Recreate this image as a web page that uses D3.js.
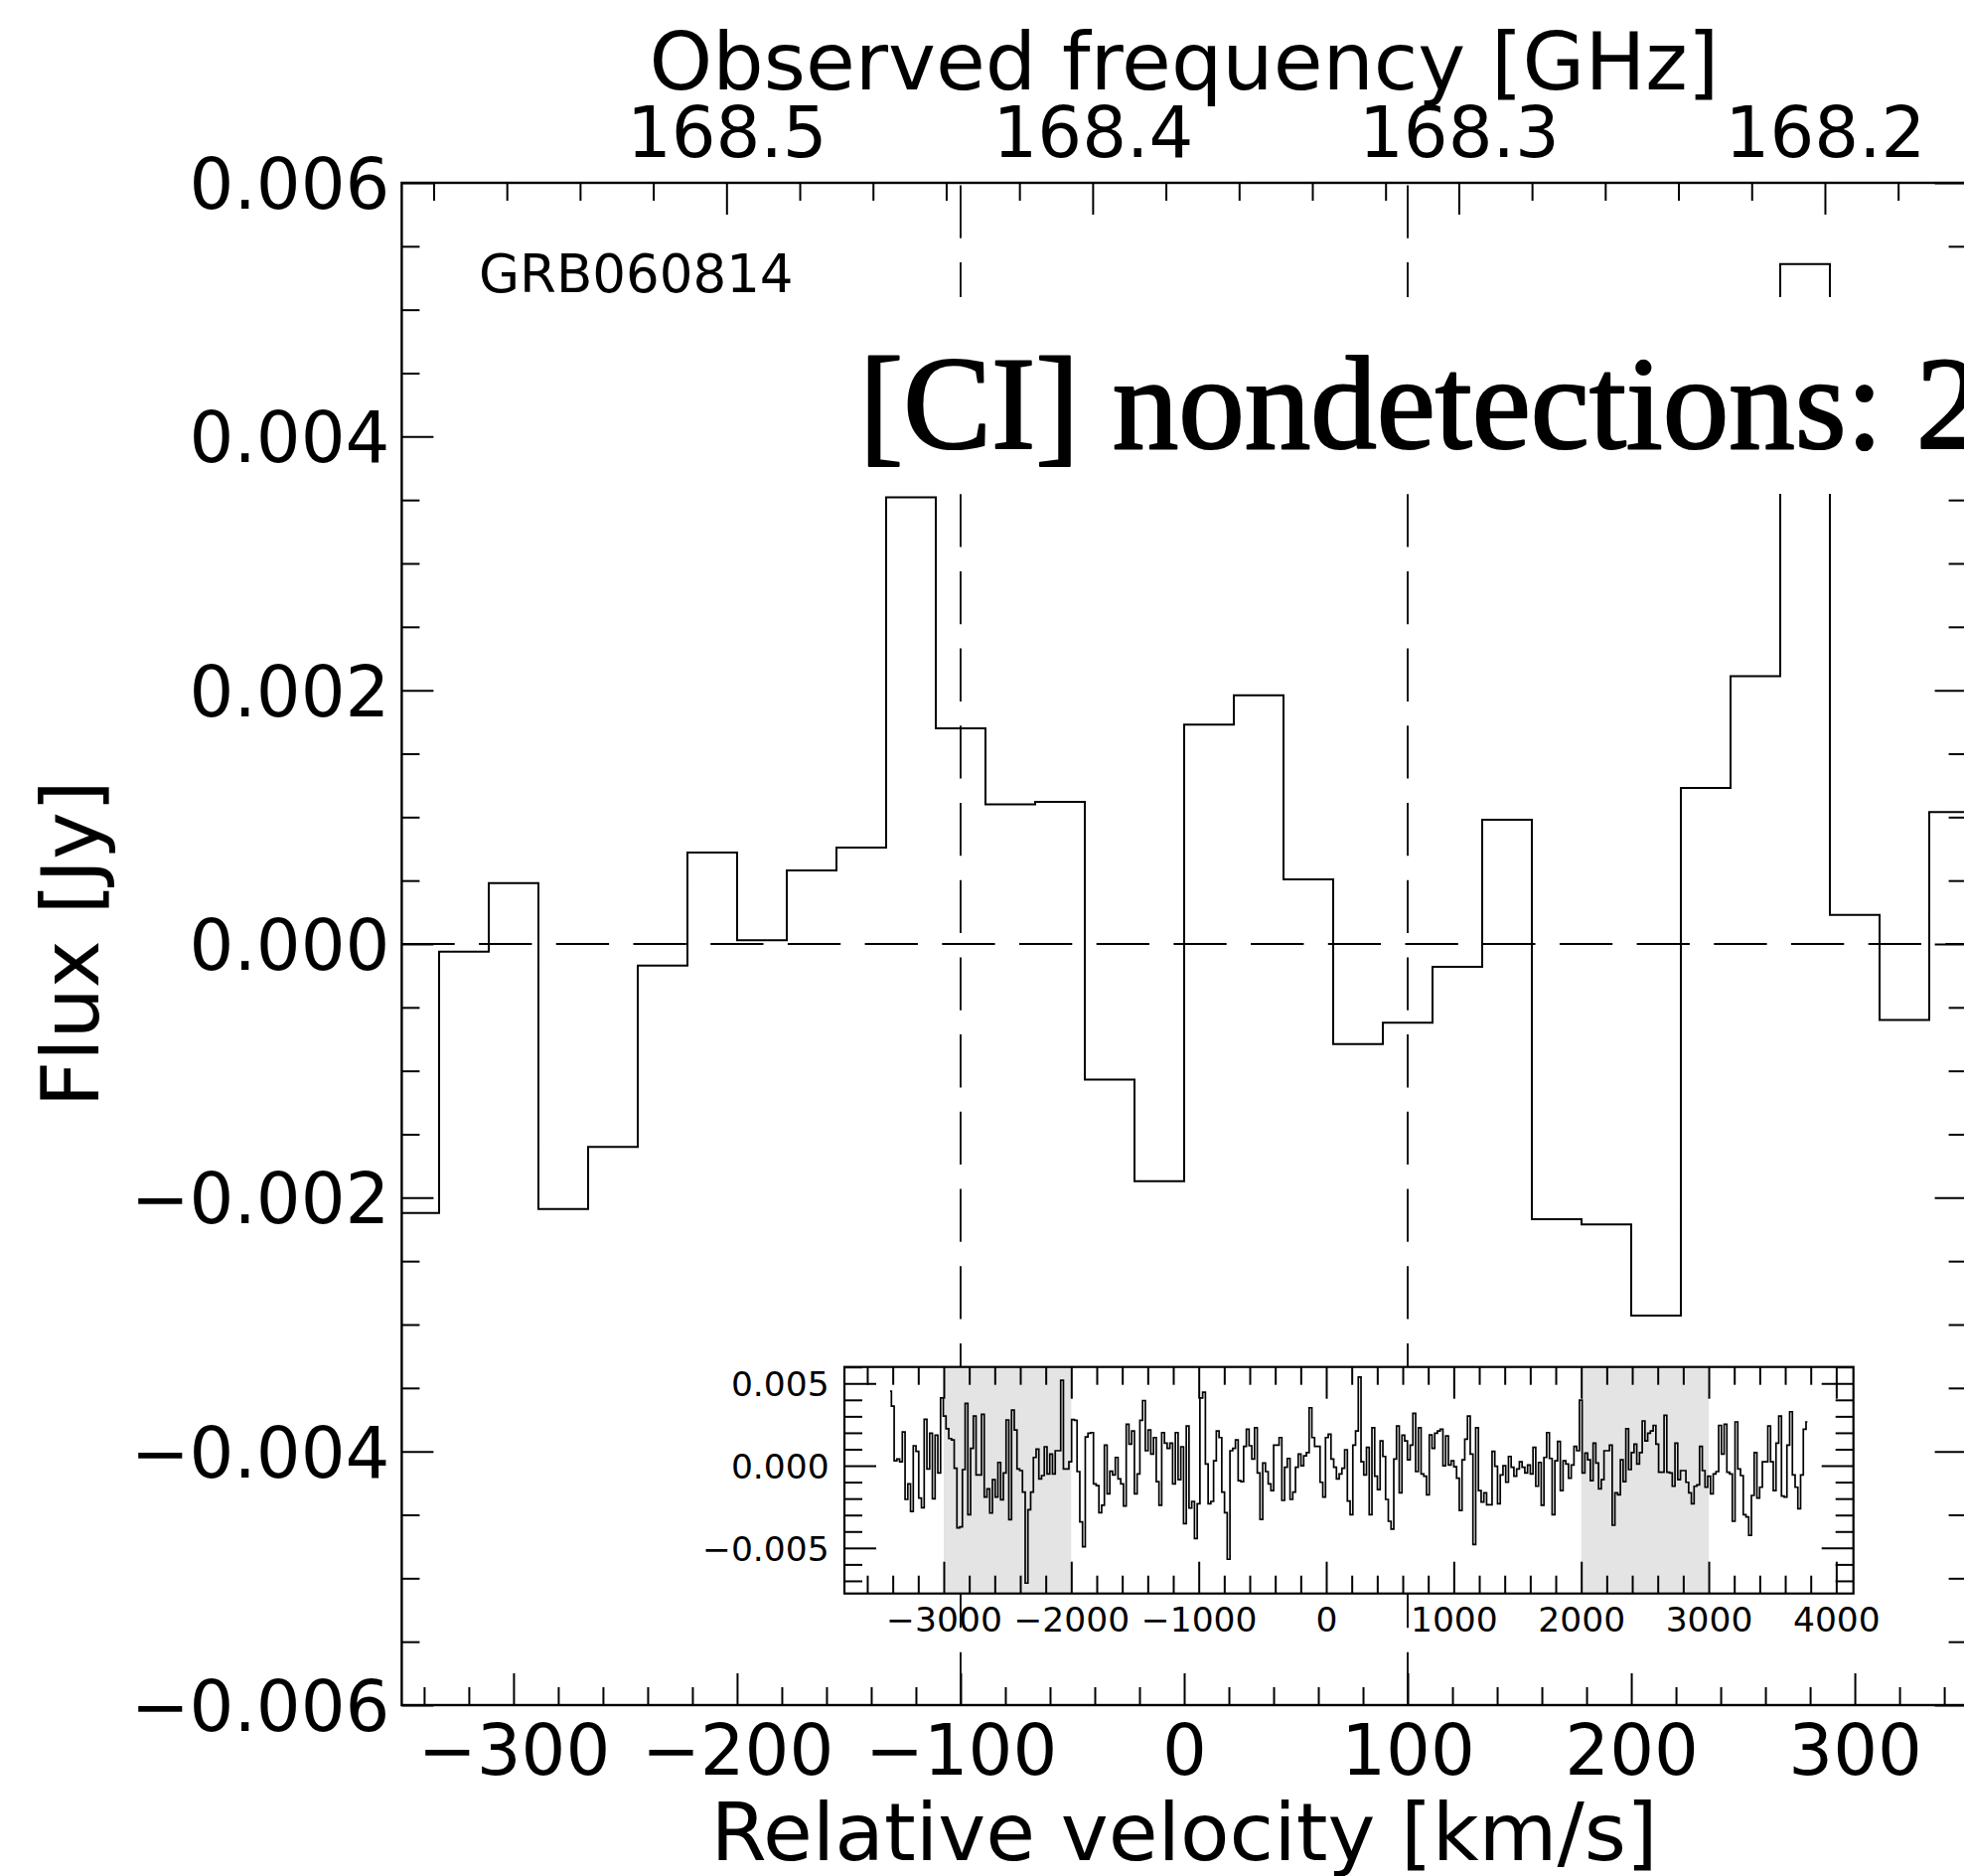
<!DOCTYPE html>
<html>
<head>
<meta charset="utf-8">
<script src="https://cdn.jsdelivr.net/npm/d3@7"></script>
<style>
  html, body { margin: 0; padding: 0; background: #fff; }
  svg { display: block; }
</style>
</head>
<body>
<svg id="chart" width="1977" height="1888"></svg>
<script>
// ---- Spectrum data (flux in mJy per channel) ----
const channelWidth = 22.22;          // km/s per channel
const mainFirstChannel = -16;        // channel index of the first listed bin (left edge = index * width)
const mainFluxMilliJy = [
  -2.12, -0.06, 0.48, -2.09, -1.60, -0.17, 0.72, 0.03, 0.58, 0.76, 3.52, 1.70,
  1.10, 1.12, -1.07, -1.87, 1.73, 1.96, 0.51, -0.79, -0.62, -0.18, 0.98, -2.17,
  -2.21, -2.93, 1.23, 2.11, 5.36, 0.23, -0.60, 1.04
];

// Wide-band spectrum shown in the inset
const insetFirstVelocity = -3421;    // km/s, first channel
const insetLastVelocity = 3774;      // km/s, last channel
const insetFluxMilliJy = [
  4.53, 3.62, 0.30, 0.40, 0.24, 2.05, -2.05, -1.11, -2.78, 1.21, 0.87, -1.97, -2.56, 2.82, -0.20, 1.97,
  -2.01, 1.85, -0.44, 4.12, 3.02, 2.25, 1.65, 1.57, -0.16, -3.78, -3.72, -0.24, 3.78, -2.98, 1.05, 3.02,
  -0.56, -0.56, 3.12, -1.91, -1.41, -2.88, -0.85, -1.91, 0.20, -2.07, -0.44, 2.78, -3.28, 3.38, 2.17, -0.20,
  -0.30, -1.61, -7.14, -2.68, -1.61, 0.50, 1.01, -0.80, -0.60, 1.15, -0.50, 0.70, -0.50, 0.91, 0.91, 5.19,
  -0.20, -0.20, 0.24, 2.80, 2.76, -0.36, -3.42, -4.93, 1.75, 1.97, 2.01, -1.11, -1.21,
  -2.86, -2.41, 1.25, -1.71, -0.34, -0.56, 0.50, -0.80, -1.11, -2.45, 2.52, 1.31, 2.11, -1.71, -0.50, 2.76,
  3.96, 0.91, 2.17, 0.70, 1.71, -0.97, -2.41, 2.01, 1.37, 1.05, 1.37, -1.11, 2.01, -0.85, 1.15, -3.52,
  2.41, -2.58, -2.17, -4.43, -2.31, 4.12, 4.47, 0.10, -2.31, -2.17, 0.30, 2.11, 1.71, -1.61, -2.86, -5.69,
  0.91, 1.05, 1.57, -0.91, -0.97, 1.17, 2.21, 1.21, 0.40, 2.31, -0.44, -3.26, 0.16, -0.36, -1.11, -1.51,
  1.25, 1.25, 1.71, -2.11, -0.10, 0.44, -2.05, -1.61, -0.10, 0.70, 0.00, 0.60, 0.80, 3.52, 1.71, 1.17,
  1.17, -1.01, -1.91, 1.71, 1.91, 0.40, -0.10, -0.80, -0.50, -0.16, 0.97,
  -2.15, -2.98, 1.25, 2.11, 5.39, 0.24, -0.56, 1.11, -2.98, 2.31, -0.64, -1.45, 1.51, 0.56, -2.05, -3.38,
  -3.86, 0.40, 2.41, -1.65, 1.85, 1.51, 0.36, 1.25, 3.18, -0.36, 2.31, -0.50, -0.64, -1.77, 1.87, 1.05,
  1.97, 2.11, 2.21, 0.00, 1.81, 0.04, 0.30, -0.06, -0.76, -2.72, 0.36, 1.61, 3.02, 0.70, -4.79, 2.31,
  -1.51, -2.21, -1.65, -2.37, -2.37, 0.87, -0.04, -2.31, -0.56, 0.00, -1.01, 0.56, -0.10, -0.64, -0.20, 0.24,
  -0.10, -0.44, 0.04, -0.50, 1.11, -1.25, 0.20, -2.41, 0.50, 2.01, 0.44, -2.98, 0.30, 1.47, -1.51, 0.30,
  0.10, -0.76, 0.04, 1.17, 0.91, 3.98, -0.44, 0.76, 0.36, -0.91, 1.37,
  0.16, -1.41, -0.85, 0.91, 0.91, 1.25, -3.62, -1.65, -1.77, 0.36, -0.97, 2.25, -0.24, 0.80, 1.31, 0.10,
  0.80, 2.72, 1.51, 1.97, 2.11, 2.45, 1.31, -0.40, -0.40, 3.06, -0.40, -0.44, -1.25, 1.37, -0.85, -0.30,
  -0.30, -1.01, -1.65, -2.31, -1.25, -1.17, 1.17, -0.30, -1.31, -0.64, -1.71, -0.50, -0.36, 2.45, 0.70, 2.52,
  -0.40, -0.50, -3.38, 2.66, -0.20, -0.60, -2.98, -3.12, -4.23, -1.81, 0.80, -1.97, -1.31, 0.24, 0.24, 2.41,
  0.24, -1.51, 1.37, 3.02, -1.85, -1.91, 1.25, 3.28, -0.56, -1.31, -2.62, -0.56, 2.21, 2.66
];
const insetShadedRanges = [[-3000, -2000], [2000, 3000]];   // km/s

// ---- Axis settings ----
const velocityLimits = [-350, 350];
const fluxLimits = [-0.006, 0.006];
const frequencyLimits = [168.5887, 168.1613];               // GHz at the left / right plot edges
const velocityTicks = [-300, -200, -100, 0, 100, 200, 300];
const fluxTicks = [-0.006, -0.004, -0.002, 0, 0.002, 0.004, 0.006];
const frequencyTicks = [168.5, 168.4, 168.3, 168.2];
const markerVelocities = [-100, 100];

const insetVelocityLimits = [-3779, 4135];
const insetFluxLimits = [-0.00777, 0.006];
const insetVelocityTicks = [-3000, -2000, -1000, 0, 1000, 2000, 3000, 4000];
const insetFluxTicks = [-0.005, 0, 0.005];

const sourceName = "GRB060814";
const bannerText = "[CI] nondetections: 2";

// ---- Layout ----
const FONT = "DejaVu Sans, sans-serif";
const TICK_FONT = 70.5, TITLE_FONT = 81, INSET_FONT = 34.5;
const plot = { left: 404.4, right: 1979.6, top: 184, bottom: 1716 };
const inset = { left: 850, right: 1865.7, top: 1375.7, bottom: 1603.7 };
const MAJOR = 32, MINOR = 18;

const svg = d3.select("#chart");
svg.append("rect").attr("width", 1977).attr("height", 1888).attr("fill", "#fff");
const defs = svg.append("defs");
defs.append("clipPath").attr("id", "mainClip").append("rect")
  .attr("x", plot.left).attr("y", plot.top)
  .attr("width", plot.right - plot.left).attr("height", plot.bottom - plot.top);
defs.append("clipPath").attr("id", "insetClip").append("rect")
  .attr("x", inset.left).attr("y", inset.top)
  .attr("width", inset.right - inset.left).attr("height", inset.bottom - inset.top);

const x = d3.scaleLinear().domain(velocityLimits).range([plot.left, plot.right]);
const y = d3.scaleLinear().domain(fluxLimits).range([plot.bottom, plot.top]);
const xTop = d3.scaleLinear().domain(frequencyLimits).range([plot.left, plot.right]);

// minor tick positions
const stepsBetween = (lo, hi, step) => d3.range(Math.ceil(lo / step - 1e-9), Math.floor(hi / step + 1e-9) + 1).map(i => +(i * step).toFixed(10));
const notIn = (majors) => v => !majors.some(m => Math.abs(m - v) < 1e-9);

function styleAxis(g, fontSize) {
  g.select(".domain").remove();
  g.selectAll(".tick line").attr("stroke", "#000").attr("stroke-width", 2);
  g.selectAll(".tick text").attr("fill", "#000").attr("font-family", FONT).attr("font-size", fontSize);
  g.attr("font-family", null).attr("font-size", null);
}

// ---- Main spectrum ----
const mainG = svg.append("g").attr("clip-path", "url(#mainClip)");
const mainPoints = mainFluxMilliJy.map((f, i) => [(mainFirstChannel + i) * channelWidth, f / 1000]);
mainPoints.push([(mainFirstChannel + mainFluxMilliJy.length) * channelWidth, mainFluxMilliJy[mainFluxMilliJy.length - 1] / 1000]);
const stepAfter = d3.line().x(d => x(d[0])).y(d => y(d[1])).curve(d3.curveStepAfter);
mainG.append("path").attr("d", stepAfter(mainPoints))
  .attr("fill", "none").attr("stroke", "#000").attr("stroke-width", 2);

// zero level and velocity markers
mainG.append("path")
  .attr("d", d3.line()([[x(velocityLimits[0]), y(0)], [x(velocityLimits[1]), y(0)]]))
  .attr("stroke", "#000").attr("stroke-width", 1.8).attr("stroke-dasharray", "53.3,24.4");
markerVelocities.forEach(v => {
  mainG.append("path")
    .attr("d", d3.line()([[x(v), y(fluxLimits[0])], [x(v), y(fluxLimits[1])]]))
    .attr("stroke", "#000").attr("stroke-width", 1.8).attr("stroke-dasharray", "53.3,24.4");
});

// ---- Main axes ----
const velMinor = stepsBetween(velocityLimits[0], velocityLimits[1], 20).filter(notIn(velocityTicks));
const fluxMinor = stepsBetween(fluxLimits[0], fluxLimits[1], 0.0005).filter(notIn(fluxTicks));
const freqMinor = stepsBetween(frequencyLimits[1], frequencyLimits[0], 0.02).filter(notIn(frequencyTicks));

svg.append("g").attr("transform", `translate(0,${plot.bottom})`)
  .call(d3.axisBottom(x).tickValues(velocityTicks).tickSize(-MAJOR).tickPadding(20).tickFormat(d3.format("d")))
  .call(g => styleAxis(g, TICK_FONT));
svg.append("g").attr("transform", `translate(0,${plot.bottom})`)
  .call(d3.axisBottom(x).tickValues(velMinor).tickSize(-MINOR).tickFormat(""))
  .call(g => styleAxis(g, TICK_FONT));

svg.append("g").attr("transform", `translate(0,${plot.top})`)
  .call(d3.axisTop(xTop).tickValues(frequencyTicks).tickSize(-MAJOR).tickPadding(26).tickFormat(d3.format(".1f")))
  .call(g => styleAxis(g, TICK_FONT));
svg.append("g").attr("transform", `translate(0,${plot.top})`)
  .call(d3.axisTop(xTop).tickValues(freqMinor).tickSize(-MINOR).tickFormat(""))
  .call(g => styleAxis(g, TICK_FONT));

svg.append("g").attr("transform", `translate(${plot.left},0)`)
  .call(d3.axisLeft(y).tickValues(fluxTicks).tickSize(-MAJOR).tickPadding(12).tickFormat(d3.format(".3f")))
  .call(g => { styleAxis(g, TICK_FONT); g.selectAll(".tick text").attr("dy", "0.36em"); });
svg.append("g").attr("transform", `translate(${plot.left},0)`)
  .call(d3.axisLeft(y).tickValues(fluxMinor).tickSize(-MINOR).tickFormat(""))
  .call(g => styleAxis(g, TICK_FONT));
svg.append("g").attr("transform", `translate(${plot.right},0)`)
  .call(d3.axisRight(y).tickValues(fluxTicks).tickSize(-MAJOR).tickFormat(""))
  .call(g => styleAxis(g, TICK_FONT));
svg.append("g").attr("transform", `translate(${plot.right},0)`)
  .call(d3.axisRight(y).tickValues(fluxMinor).tickSize(-MINOR).tickFormat(""))
  .call(g => styleAxis(g, TICK_FONT));

svg.append("rect")
  .attr("x", plot.left).attr("y", plot.top)
  .attr("width", plot.right - plot.left).attr("height", plot.bottom - plot.top)
  .attr("fill", "none").attr("stroke", "#000").attr("stroke-width", 2.4);

// axis titles
svg.append("text").attr("x", (plot.left + plot.right) / 2).attr("y", 1872)
  .attr("text-anchor", "middle").attr("font-family", FONT).attr("font-size", TITLE_FONT)
  .text("Relative velocity [km/s]");
svg.append("text").attr("x", (plot.left + plot.right) / 2).attr("y", 89.5)
  .attr("text-anchor", "middle").attr("font-family", FONT).attr("font-size", TITLE_FONT)
  .text("Observed frequency [GHz]");
svg.append("text").attr("transform", `translate(99,${(plot.top + plot.bottom) / 2}) rotate(-90)`)
  .attr("text-anchor", "middle").attr("font-family", FONT).attr("font-size", TITLE_FONT)
  .text("Flux [Jy]");

// source label
svg.append("text").attr("x", 482).attr("y", 294)
  .attr("font-family", FONT).attr("font-size", 53).text(sourceName);

// banner with opaque background
svg.append("rect").attr("x", 850).attr("y", 299).attr("width", 1200).attr("height", 198).attr("fill", "#fff");
svg.append("text").attr("x", 865).attr("y", 451)
  .attr("font-family", "Liberation Serif, Times New Roman, serif").attr("font-size", 133)
  .attr("stroke", "#000").attr("stroke-width", 2.2).attr("stroke-linejoin", "round")
  .text(bannerText);

// ---- Inset: full bandwidth spectrum ----
const xi = d3.scaleLinear().domain(insetVelocityLimits).range([inset.left, inset.right]);
const yi = d3.scaleLinear().domain(insetFluxLimits).range([inset.bottom, inset.top]);

svg.append("rect")
  .attr("x", inset.left).attr("y", inset.top)
  .attr("width", inset.right - inset.left).attr("height", inset.bottom - inset.top)
  .attr("fill", "#fff");
const insetG = svg.append("g").attr("clip-path", "url(#insetClip)");
insetG.selectAll("rect.band").data(insetShadedRanges).join("rect").attr("class", "band")
  .attr("x", d => xi(d[0])).attr("width", d => xi(d[1]) - xi(d[0]))
  .attr("y", inset.top).attr("height", inset.bottom - inset.top)
  .attr("fill", "#e4e4e4");

const nInset = insetFluxMilliJy.length;
const insetStep = (insetLastVelocity - insetFirstVelocity) / (nInset - 1);
const insetPoints = insetFluxMilliJy.map((f, i) => [insetFirstVelocity + i * insetStep, f / 1000]);
const stepMid = d3.line().x(d => xi(d[0])).y(d => yi(d[1])).curve(d3.curveStep);
insetG.append("path").attr("d", stepMid(insetPoints))
  .attr("fill", "none").attr("stroke", "#000").attr("stroke-width", 1.7);

const ivMinor = stepsBetween(insetVelocityLimits[0], insetVelocityLimits[1], 200).filter(notIn(insetVelocityTicks));
const ifMinor = stepsBetween(insetFluxLimits[0], insetFluxLimits[1], 0.001).filter(notIn(insetFluxTicks));

svg.append("g").attr("transform", `translate(0,${inset.bottom})`)
  .call(d3.axisBottom(xi).tickValues(insetVelocityTicks).tickSize(-MAJOR).tickPadding(13.8).tickFormat(d3.format("d")))
  .call(g => styleAxis(g, INSET_FONT));
svg.append("g").attr("transform", `translate(0,${inset.bottom})`)
  .call(d3.axisBottom(xi).tickValues(ivMinor).tickSize(-MINOR).tickFormat(""))
  .call(g => styleAxis(g, INSET_FONT));
svg.append("g").attr("transform", `translate(0,${inset.top})`)
  .call(d3.axisTop(xi).tickValues(insetVelocityTicks).tickSize(-MAJOR).tickFormat(""))
  .call(g => styleAxis(g, INSET_FONT));
svg.append("g").attr("transform", `translate(0,${inset.top})`)
  .call(d3.axisTop(xi).tickValues(ivMinor).tickSize(-MINOR).tickFormat(""))
  .call(g => styleAxis(g, INSET_FONT));
svg.append("g").attr("transform", `translate(${inset.left},0)`)
  .call(d3.axisLeft(yi).tickValues(insetFluxTicks).tickSize(-MAJOR).tickPadding(15.3).tickFormat(d3.format(".3f")))
  .call(g => { styleAxis(g, INSET_FONT); g.selectAll(".tick text").attr("dy", "0.36em"); });
svg.append("g").attr("transform", `translate(${inset.left},0)`)
  .call(d3.axisLeft(yi).tickValues(ifMinor).tickSize(-MINOR).tickFormat(""))
  .call(g => styleAxis(g, INSET_FONT));
svg.append("g").attr("transform", `translate(${inset.right},0)`)
  .call(d3.axisRight(yi).tickValues(insetFluxTicks).tickSize(-MAJOR).tickFormat(""))
  .call(g => styleAxis(g, INSET_FONT));
svg.append("g").attr("transform", `translate(${inset.right},0)`)
  .call(d3.axisRight(yi).tickValues(ifMinor).tickSize(-MINOR).tickFormat(""))
  .call(g => styleAxis(g, INSET_FONT));

svg.append("rect")
  .attr("x", inset.left).attr("y", inset.top)
  .attr("width", inset.right - inset.left).attr("height", inset.bottom - inset.top)
  .attr("fill", "none").attr("stroke", "#000").attr("stroke-width", 2.2);
</script>
</body>
</html>
